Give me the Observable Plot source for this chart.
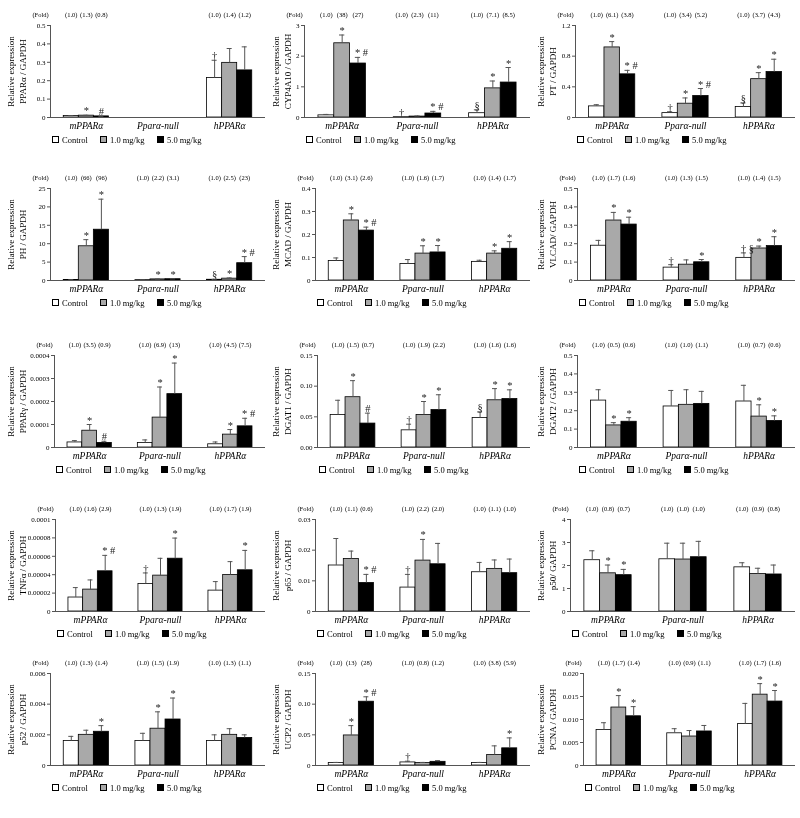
<!DOCTYPE html>
<html><head><meta charset="utf-8">
<script src="https://cdn.jsdelivr.net/npm/d3@7"></script>
<script src="https://cdn.jsdelivr.net/npm/@observablehq/plot@0.6"></script>
<style>
body{margin:0;background:#fff;font-family:"Liberation Serif",serif;}
#root{position:relative;width:800px;height:818px;overflow:hidden;background:#fff;}
#root svg, #root svg text{font-family:"Liberation Serif","Times New Roman",serif !important;}
.panel{position:absolute;width:266px;height:160px;}
.panel svg{position:absolute;left:0;top:0;will-change:transform;}
.legend{position:absolute;top:135px;font-size:8.5px;color:#000;white-space:nowrap;line-height:10px;}
.legend span.sw{display:inline-block;width:5px;height:5px;border:1px solid #000;margin-right:3px;vertical-align:0px;}
.legend span.it{position:absolute;}
</style></head><body><div id="root"></div><script>
const groups = ["mPPARα", "Pparα-null", "hPPARα"];
const doses = ["Control", "1.0 mg/kg", "5.0 mg/kg"];
const doseColors = ["#ffffff", "#a9a9a9", "#000000"];

const yLabels = ["PPARα / GAPDH","CYP4A10 / GAPDH","PT / GAPDH","PH / GAPDH","MCAD / GAPDH","VLCAD/ GAPDH",
  "PPARγ / GAPDH","DGAT1 / GAPDH","DGAT2 / GAPDH","TNFα / GAPDH","p65 / GAPDH","p50/ GAPDH",
  "p52 / GAPDH","UCP2 / GAPDH","PCNA / GAPDH"];

const yTickLabels = [
  ["0","0.1","0.2","0.3","0.4","0.5"],
  ["0","1","2","3"],
  ["0","0.4","0.8","1.2"],
  ["0","5","10","15","20","25"],
  ["0","0.1","0.2","0.3","0.4"],
  ["0","0.1","0.2","0.3","0.4","0.5"],
  ["0","0.0001","0.0002","0.0003","0.0004"],
  ["0.00","0.05","0.10","0.15"],
  ["0","0.1","0.2","0.3","0.4","0.5"],
  ["0","0.00002","0.00004","0.00006","0.00008","0.0001"],
  ["0","0.01","0.02","0.03"],
  ["0","1","2","3","4"],
  ["0","0.002","0.004","0.006"],
  ["0","0.05","0.10","0.15"],
  ["0","0.005","0.010","0.015","0.020"]
];

// order in each row: mPPARα (Control, 1.0, 5.0), Pparα-null (...), hPPARα (...)
const means = [
  [0.008,0.010,0.006, null,null,null, 0.215,0.297,0.256],
  [0.07,2.42,1.76, 0.01,0.03,0.13, 0.14,0.95,1.14],
  [0.145,0.914,0.563, 0.057,0.18,0.28, 0.136,0.50,0.593],
  [0.15,9.3,13.8, 0.1,0.3,0.35, 0.2,0.5,4.7],
  [0.085,0.261,0.217, 0.072,0.117,0.122, 0.081,0.117,0.138],
  [0.189,0.326,0.304, 0.070,0.086,0.099, 0.123,0.174,0.187],
  [0.000022,0.000073,0.00002, 0.00002,0.00013,0.000232, 0.000014,0.000056,0.000092],
  [0.053,0.082,0.039, 0.028,0.053,0.061, 0.048,0.077,0.079],
  [0.255,0.12,0.14, 0.223,0.232,0.237, 0.25,0.168,0.144],
  [0.0000152,0.0000238,0.0000437, 0.00003,0.000039,0.0000574, 0.0000227,0.0000397,0.0000448],
  [0.015,0.0171,0.0093, 0.0078,0.0166,0.0154, 0.0128,0.0139,0.0125],
  [2.23,1.66,1.58, 2.27,2.26,2.36, 1.92,1.63,1.61],
  [0.0016,0.0020,0.0022, 0.0016,0.0024,0.0030, 0.0016,0.0020,0.0018],
  [0.004,0.049,0.104, 0.005,0.004,0.006, 0.004,0.017,0.028],
  [0.0077,0.0126,0.0107, 0.0070,0.0063,0.0074, 0.0090,0.0154,0.0139]
];

const errors = [
  [0.002,0.002,0.001, null,null,null, 0.096,0.078,0.128],
  [0.03,0.27,0.20, 0.005,0.02,0.07, 0.11,0.24,0.49],
  [0.022,0.076,0.052, 0.018,0.075,0.098, 0.054,0.085,0.167],
  [0.05,1.8,8.3, 0.05,0.1,0.1, 0.1,0.2,1.8],
  [0.013,0.029,0.015, 0.019,0.034,0.030, 0.007,0.012,0.031],
  [0.029,0.044,0.040, 0.016,0.026,0.015, 0.027,0.013,0.051],
  [0.000008,0.000027,0.000007, 0.000013,0.000133,0.000135, 0.00001,0.000022,0.000035],
  [0.024,0.027,0.017, 0.010,0.022,0.025, 0.010,0.019,0.015],
  [0.059,0.015,0.022, 0.087,0.082,0.068, 0.088,0.064,0.028],
  [0.0000108,0.0000105,0.0000173, 0.0000119,0.0000188,0.0000224, 0.0000098,0.0000145,0.0000216],
  [0.0088,0.0026,0.0028, 0.0043,0.0069,0.0068, 0.0032,0.0029,0.0046],
  [0.41,0.36,0.25, 0.70,0.71,0.69, 0.20,0.25,0.41],
  [0.0003,0.0003,0.0004, 0.0005,0.0011,0.0014, 0.0004,0.0004,0.0002],
  [0.001,0.016,0.008, 0.002,0.001,0.002, 0.001,0.015,0.017],
  [0.0016,0.0026,0.0021, 0.0010,0.0013,0.0013, 0.0045,0.0024,0.0024]
];

const signif = [
  ["","*","#", "","","", "†","",""],
  ["","*","*#", "†","","*#", "§","*","*"],
  ["","*","*#", "†","*","*#", "§","*","*"],
  ["","*","*", "","*","*", "§","*","*#"],
  ["","*","*#", "","*","*", "","*","*"],
  ["","*","*", "†","","*", "†§","*","*"],
  ["","*","#", "","*","*", "","*","*#"],
  ["","*","#", "†","*","*", "§","*","*"],
  ["","*","*", "","","", "","*","*"],
  ["","","*#", "†","","*", "","","*"],
  ["","","*#", "†","*","", "","",""],
  ["","*","*", "","","", "","",""],
  ["","","*", "","*","*", "","",""],
  ["","*","*#", "†","","", "","","*"],
  ["","*","*", "","","", "","*","*"]
];

const folds = [
  ["1.0","1.3","0.8", "","","", "1.0","1.4","1.2"],
  ["1.0","38","27", "1.0","2.3","11", "1.0","7.1","8.5"],
  ["1.0","6.1","3.8", "1.0","3.4","5.2", "1.0","3.7","4.3"],
  ["1.0","66","96", "1.0","2.2","3.1", "1.0","2.5","23"],
  ["1.0","3.1","2.6", "1.0","1.6","1.7", "1.0","1.4","1.7"],
  ["1.0","1.7","1.6", "1.0","1.3","1.5", "1.0","1.4","1.5"],
  ["1.0","3.5","0.9", "1.0","6.9","13", "1.0","4.5","7.5"],
  ["1.0","1.5","0.7", "1.0","1.9","2.2", "1.0","1.6","1.6"],
  ["1.0","0.5","0.6", "1.0","1.0","1.1", "1.0","0.7","0.6"],
  ["1.0","1.6","2.9", "1.0","1.3","1.9", "1.0","1.7","1.9"],
  ["1.0","1.1","0.6", "1.0","2.2","2.0", "1.0","1.1","1.0"],
  ["1.0","0.8","0.7", "1.0","1.0","1.0", "1.0","0.9","0.8"],
  ["1.0","1.3","1.4", "1.0","1.5","1.9", "1.0","1.3","1.1"],
  ["1.0","13","28", "1.0","0.8","1.2", "1.0","3.8","5.9"],
  ["1.0","1.7","1.4", "1.0","0.9","1.1", "1.0","1.7","1.6"]
];

// layout
const colLeft = [0, 265, 530];
const rowTop = [0, 163, 330, 494, 648];
const leftMargins = [50,39,45, 50,50,47, 54,52,47, 55,50,40, 50,50,53];
const W = 266, H = 139;
const serif = "Liberation Serif, Times New Roman, serif";
const bw = 0.21;

const root = document.getElementById("root");

for (let p = 0; p < 15; p++) {
  const rows = [];
  groups.forEach((g, gi) => doses.forEach((d, di) => {
    const k = gi * 3 + di;
    rows.push({g, gi, d, di, v: means[p][k], e: errors[p][k], s: signif[p][k], f: folds[p][k]});
  }));
  const bars = rows.filter(r => r.v != null);
  const xc = r => r.gi + (r.di - 1) * bw;
  const top = r => r.v + (r.e || 0);
  const ticks = yTickLabels[p].map(Number);
  const ymax = ticks[ticks.length - 1];
  const ml = leftMargins[p];

  const chart = Plot.plot({
    width: W, height: H,
    marginLeft: ml, marginRight: 1, marginTop: 25, marginBottom: 22,
    style: {fontFamily: serif, background: "transparent", overflow: "visible"},
    x: {domain: [-0.5, 2.5], axis: null},
    y: {domain: [0, ymax], axis: null},
    color: {domain: doses, range: doseColors},
    marks: [
      Plot.rectY(bars, {x1: r => xc(r) - bw / 2, x2: r => xc(r) + bw / 2, y1: 0, y2: "v", fill: "d", stroke: "#000", strokeWidth: 0.8}),
      Plot.ruleX(bars.filter(r => r.e), {x: xc, y1: "v", y2: top, stroke: "#555", strokeWidth: 1}),
      Plot.ruleY(bars.filter(r => r.e), {y: top, x1: r => xc(r) - 0.035, x2: r => xc(r) + 0.035, stroke: "#555", strokeWidth: 1}),
      Plot.text(bars.filter(r => r.s && r.s.length === 1), {x: xc, y: top, text: "s", lineAnchor: "bottom", dy: -1, fontSize: 10.5, fill: "#222"}),
      Plot.text(bars.filter(r => r.s && r.s.length > 1), {x: xc, y: top, text: r => r.s.split("").join(" "), textAnchor: "start", dx: -3, lineAnchor: "bottom", dy: -1, fontSize: 10.5, fill: "#222"}),
      Plot.text(rows.filter(r => r.f), {x: xc, text: r => `(${r.f})`, frameAnchor: "top", dy: -13, fontSize: 6.5}),
      Plot.text(["(Fold)"], {frameAnchor: "top-left", text: d => d, textAnchor: "middle", dy: -13, dx: -10, fontSize: 6.5}),
      Plot.ruleX([-0.5], {stroke: "#555", strokeWidth: 1}),
      Plot.ruleY([0], {stroke: "#555", strokeWidth: 1}),
      Plot.axisY({ticks, tickFormat: d => yTickLabels[p][ticks.indexOf(d)], label: null, tickSize: 3, tickPadding: 2, fontSize: 7, stroke: "#555"}),
      Plot.text(groups, {x: (d, i) => i, text: d => d, frameAnchor: "bottom", dy: 11, fontStyle: "italic", fontSize: 9.5}),
      Plot.text([`Relative expression\n${yLabels[p]}`], {text: d => d, frameAnchor: "left", textAnchor: "middle", lineAnchor: "middle", rotate: -90, dx: 15.5 - ml, fontSize: 9, lineHeight: 1.4})
    ]
  });

  const div = document.createElement("div");
  div.className = "panel";
  div.style.left = colLeft[p % 3] + "px";
  div.style.top = rowTop[Math.floor(p / 3)] + "px";
  div.appendChild(chart);

  const leg = document.createElement("div");
  leg.className = "legend";
  leg.style.left = (ml + 2) + "px";
  const offsets = [0, 48, 105];
  doses.forEach((d, i) => {
    const it = document.createElement("span");
    it.className = "it";
    it.style.left = offsets[i] + "px";
    const sw = document.createElement("span");
    sw.className = "sw";
    sw.style.background = doseColors[i];
    it.appendChild(sw);
    it.appendChild(document.createTextNode(d));
    leg.appendChild(it);
  });
  div.appendChild(leg);
  root.appendChild(div);
}
</script></body></html>
